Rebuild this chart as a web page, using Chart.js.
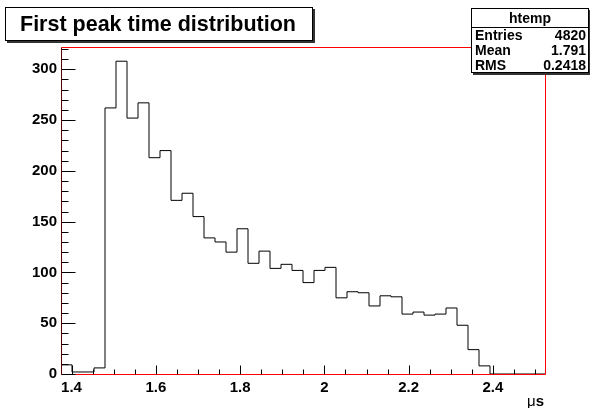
<!DOCTYPE html>
<html>
<head>
<meta charset="utf-8">
<script src="https://cdn.jsdelivr.net/npm/chart.js@4/dist/chart.umd.min.js"></script>
<style>
  body { margin: 0; background: #fff; }
  #wrap { position: relative; width: 590px; height: 408px; font-family: 'Liberation Sans', Arial, sans-serif; }
  #c { position: absolute; left: 0; top: 0; }
  .box { position: absolute; background: #fff; border: 1px solid #000; box-shadow: 2px 2px 0 #333; box-sizing: border-box; }
  #title { left: 5px; top: 7px; width: 308px; height: 34px; font-weight: bold; font-size: 21.5px; line-height: 32px; padding-left: 14px; white-space: nowrap; }
  #stats { left: 471px; top: 8px; width: 118px; height: 65px; font-weight: bold; font-size: 14px; }
  #stats .head { text-align: center; height: 18px; line-height: 18px; border-bottom: 1px solid #000; }
  #stats .row { display: flex; justify-content: space-between; height: 15px; line-height: 15px; padding: 0 2px 0 3px; }
  #xtitle { position: absolute; right: 46px; top: 392px; font-size: 15px; }
</style>
</head>
<body>
<div id="wrap">
  <canvas id="c" width="590" height="408"></canvas>
  <div id="title" class="box">First peak time distribution</div>
  <div id="stats" class="box">
    <div class="head">htemp</div>
    <div class="row"><span>Entries</span><span>4820</span></div>
    <div class="row"><span>Mean</span><span>1.791</span></div>
    <div class="row"><span>RMS</span><span>0.2418</span></div>
  </div>
  <div id="xtitle"><span>μ</span><b>s</b></div>
</div>
<script>
// histogram binning (44 bins)
const xLow = 1.375;
const xHigh = 2.5235;
const binCounts = [9, 2, 2, 6, 262, 308, 252, 267, 213, 220,
                   171, 178, 155, 134, 130, 120, 143, 109, 121, 104,
                   108, 102, 90, 102, 105, 75, 81, 80, 67, 77,
                   76, 59, 61, 58, 59, 65, 48, 24, 8, 0,
                   0, 0, 0, 0];
const xTicks = [1.4, 1.6, 1.8, 2.0, 2.2, 2.4];
const yTicks = [0, 50, 100, 150, 200, 250, 300];
const yMax = 322;

const binWidth = (xHigh - xLow) / binCounts.length;
const points = binCounts.map((v, i) => ({ x: xLow + i * binWidth, y: v }));
points.push({ x: xHigh, y: 0 });

const font = { family: "'Liberation Sans', Arial, sans-serif", size: 15, weight: 'bold' };

// ROOT style frame + inward ticks
const frame = {
    id: 'frame',
    afterDraw(chart) {
        const { ctx, chartArea: a, scales: { x, y } } = chart;
        const L = Math.round(a.left) + 0.5, R = Math.round(a.right) + 0.5;
        const T = Math.round(a.top) + 0.5, B = Math.round(a.bottom) + 0.5;
        ctx.save();
        ctx.lineWidth = 1;
        ctx.strokeStyle = '#ff0000';
        ctx.beginPath();
        ctx.moveTo(L, T); ctx.lineTo(R, T); ctx.lineTo(R, B); ctx.lineTo(L, B);
        ctx.stroke();
        ctx.strokeStyle = '#000';
        ctx.beginPath();
        for (let v = 0; v <= yMax; v += 10) {
            const py = Math.round(y.getPixelForValue(v)) + 0.5;
            ctx.moveTo(L, py);
            ctx.lineTo(L + (v % 50 === 0 ? 14 : 7), py);
        }
        for (let k = 0; k * 0.05 + 1.4 <= xHigh; k++) {
            const px = Math.round(x.getPixelForValue(1.4 + k * 0.05)) + 0.5;
            ctx.moveTo(px, B);
            ctx.lineTo(px, B - (k % 4 === 0 ? 9 : 5));
        }
        ctx.stroke();
        ctx.strokeStyle = '#5a0000';
        ctx.beginPath();
        ctx.moveTo(L, T);
        ctx.lineTo(L, B);
        ctx.stroke();
        ctx.restore();
    }
};

new Chart(document.getElementById('c'), {
    type: 'line',
    data: {
        datasets: [{
            data: points,
            stepped: true,
            borderColor: '#000',
            borderWidth: 1,
            pointRadius: 0,
            fill: false
        }]
    },
    options: {
        responsive: false,
        animation: false,
        devicePixelRatio: 1,
        layout: { padding: { top: 47, right: 45, left: 0, bottom: 0 } },
        plugins: { legend: { display: false }, tooltip: { enabled: false } },
        scales: {
            x: {
                type: 'linear',
                min: xLow,
                max: xHigh,
                grid: { display: false, drawTicks: false },
                border: { display: false },
                afterBuildTicks: s => { s.ticks = xTicks.map(v => ({ value: v })); },
                afterFit: s => { s.height = 34; },
                ticks: {
                    font: font, color: '#000', padding: 5,
                    maxRotation: 0, autoSkip: false,
                    callback: v => String(+v.toFixed(1))
                }
            },
            y: {
                min: 0,
                max: yMax,
                grid: { display: false, drawTicks: false },
                border: { display: false },
                afterBuildTicks: s => { s.ticks = yTicks.map(v => ({ value: v })); },
                afterFit: s => { s.width = 61; },
                ticks: { font: font, color: '#000', padding: 4, callback: v => v }
            }
        }
    },
    plugins: [frame]
});
</script>
</body>
</html>
